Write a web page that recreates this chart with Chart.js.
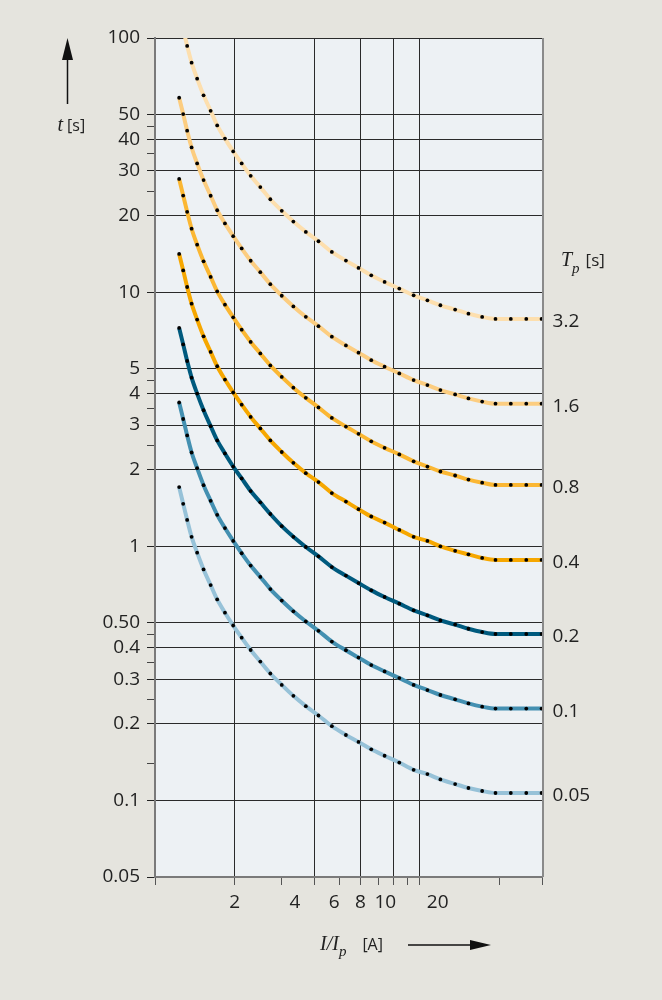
<!DOCTYPE html>
<html>
<head>
<meta charset="utf-8">
<script src="https://cdn.jsdelivr.net/npm/chart.js@4"></script>
<style>
  html, body { margin: 0; padding: 0; background: #e5e4de; }
  #wrap { width: 662px; height: 1000px; }
</style>
</head>
<body>
<div id="wrap"><canvas id="curveChart" width="662" height="1000"></canvas></div>
<script>
// I/Ip positions of the dots (shared by every curve)
const multiples = [1.234, 1.278, 1.323, 1.375, 1.443, 1.526, 1.623, 1.718, 1.838, 1.975,
    2.126, 2.299, 2.500, 2.728, 3.013, 3.333, 3.715, 4.147, 4.659, 5.265,
    5.875, 6.564, 7.372, 8.379, 9.491, 10.70, 11.98, 13.62, 15.29, 17.23,
    19.35, 22.11, 25.29, 28.89];

// tripping time t [s] for each time multiplier Tp
const tp32 = [null, 108.2, 93.1, 80.0, 69.2, 59.5, 51.7, 45.3, 40.2, 35.8,
    32.1, 28.7, 25.9, 23.2, 20.9, 18.95, 17.26, 15.86, 14.40, 13.31,
    12.46, 11.65, 10.97, 10.33, 9.72, 9.29, 8.88, 8.54, 8.23, 7.99,
    7.85, 7.85, 7.85, 7.85];
const tp16 = [58.2, 50.2, 43.2, 37.1, 32.1, 27.6, 23.95, 21.0, 18.64, 16.61,
    14.86, 13.29, 11.99, 10.75, 9.68, 8.79, 8.00, 7.35, 6.68, 6.17,
    5.78, 5.40, 5.09, 4.79, 4.51, 4.31, 4.12, 3.96, 3.82, 3.71,
    3.64, 3.64, 3.64, 3.64];
const tp08 = [27.9, 24.0, 20.7, 17.77, 15.38, 13.22, 11.48, 10.07, 8.93, 7.96,
    7.12, 6.37, 5.74, 5.15, 4.64, 4.21, 3.84, 3.52, 3.20, 2.96,
    2.77, 2.59, 2.44, 2.30, 2.16, 2.06, 1.97, 1.90, 1.83, 1.78,
    1.744, 1.744, 1.744, 1.744];
const tp04 = [14.14, 12.18, 10.48, 9.01, 7.80, 6.70, 5.82, 5.11, 4.53, 4.03,
    3.61, 3.23, 2.91, 2.61, 2.35, 2.13, 1.94, 1.79, 1.62, 1.50,
    1.40, 1.31, 1.24, 1.16, 1.09, 1.05, 1.00, 0.96, 0.93, 0.90,
    0.884, 0.884, 0.884, 0.884];
const tp02 = [7.23, 6.23, 5.36, 4.61, 3.99, 3.43, 2.97, 2.61, 2.32, 2.06,
    1.85, 1.65, 1.49, 1.34, 1.20, 1.09, 0.994, 0.913, 0.829, 0.767,
    0.717, 0.671, 0.632, 0.595, 0.560, 0.535, 0.511, 0.492, 0.474, 0.460,
    0.452, 0.452, 0.452, 0.452];
const tp01 = [3.68, 3.17, 2.73, 2.34, 2.03, 1.74, 1.51, 1.33, 1.18, 1.05,
    0.939, 0.840, 0.758, 0.679, 0.612, 0.555, 0.506, 0.465, 0.422, 0.390,
    0.365, 0.341, 0.322, 0.303, 0.285, 0.272, 0.260, 0.250, 0.241, 0.234,
    0.230, 0.230, 0.230, 0.230];
const tp005 = [1.71, 1.47, 1.27, 1.09, 0.944, 0.811, 0.704, 0.618, 0.548, 0.488,
    0.437, 0.391, 0.352, 0.316, 0.285, 0.258, 0.235, 0.216, 0.196, 0.181,
    0.170, 0.159, 0.150, 0.141, 0.132, 0.127, 0.121, 0.116, 0.112, 0.109,
    0.107, 0.107, 0.107, 0.107];

const curveLabels = ['3.2', '1.6', '0.8', '0.4', '0.2', '0.1', '0.05'];
const curveValues = [tp32, tp16, tp08, tp04, tp02, tp01, tp005];
const curveColors = ['#fddfae', '#fccd80', '#fbb733', '#f6a700', '#005a7e', '#4490b1', '#97c2d8'];

// axis ticks
const yTicks = [0.05, 0.1, 0.14, 0.2, 0.25, 0.3, 0.35, 0.4, 0.45, 0.5, 1, 2, 2.5, 3, 3.5, 4, 4.5, 5,
    10, 20, 25, 30, 35, 40, 45, 50, 100];
const yLabels = { 0.05: '0.05', 0.1: '0.1', 0.2: '0.2', 0.3: '0.3', 0.4: '0.4', 0.5: '0.50', 1: '1',
    2: '2', 3: '3', 4: '4', 5: '5', 10: '10', 20: '20', 30: '30', 40: '40', 50: '50', 100: '100' };
const xTicks = [1, 2, 3, 4, 5, 6, 7, 8, 9, 10, 20, 29];
const xGrid = [2, 4, 6, 8, 10];
const xLabels = ['2', '4', '6', '8', '10', '20'];
const xLabelAt = [2, 3.38, 4.75, 5.97, 7.42, 11.7];

const plotBg = '#edf1f4';
const pageBg = '#e5e4de';
const lineDark = '#2a2a2a';

function drawRuns(ctx, runs, x, y) {
    // draw text pieces one after another
    runs.forEach(r => {
        ctx.font = r.font;
        ctx.fillText(r.text, x + (r.dx || 0), y + (r.dy || 0));
        x += ctx.measureText(r.text).width + (r.dx || 0) + (r.gap || 0);
    });
}

const decorate = {
    id: 'decorate',
    beforeDraw(chart) {
        const { ctx, chartArea: a } = chart;
        ctx.save();
        ctx.fillStyle = pageBg;
        ctx.fillRect(0, 0, chart.width, chart.height);
        ctx.fillStyle = plotBg;
        ctx.fillRect(a.left, a.top, a.right - a.left, a.bottom - a.top);
        ctx.restore();
    },
    afterDatasetsDraw(chart) {
        const { ctx, chartArea: a } = chart;
        ctx.save();
        // right border of the plot
        ctx.strokeStyle = '#8a8a8a';
        ctx.lineWidth = 2;
        ctx.beginPath();
        ctx.moveTo(a.right + 1, a.top);
        ctx.lineTo(a.right + 1, a.bottom);
        ctx.stroke();

        // Tp labels at the end of each curve
        ctx.fillStyle = '#222';
        ctx.textBaseline = 'middle';
        ctx.textAlign = 'left';
        ctx.font = '19px "Open Sans"';
        chart.data.datasets.forEach((ds, i) => {
            const meta = chart.getDatasetMeta(i);
            const last = meta.data[meta.data.length - 1];
            ctx.fillText(curveLabels[i], last.x + 11, last.y + 3);
        });

        ctx.textBaseline = 'alphabetic';
        // Tp [s] heading
        drawRuns(ctx, [
            { text: 'T', font: 'italic 20px "Liberation Serif"' },
            { text: 'p', font: 'italic 15px "Liberation Serif"', dy: 7, gap: 6 },
            { text: '[s]', font: '17px "Open Sans"' }
        ], a.right + 19, 266);

        // y axis title with arrow
        const ax = a.left - 87.5;
        ctx.strokeStyle = '#111';
        ctx.fillStyle = '#111';
        ctx.lineWidth = 1.5;
        ctx.beginPath();
        ctx.moveTo(ax, a.top + 20);
        ctx.lineTo(ax, a.top + 66);
        ctx.stroke();
        ctx.beginPath();
        ctx.moveTo(ax, a.top);
        ctx.lineTo(ax - 5.5, a.top + 22);
        ctx.lineTo(ax + 5.5, a.top + 22);
        ctx.closePath();
        ctx.fill();
        ctx.fillStyle = '#222';
        drawRuns(ctx, [
            { text: 't', font: 'italic 20px "Liberation Serif"', gap: 4 },
            { text: '[s]', font: '16px "Open Sans"' }
        ], ax - 10, a.top + 93);

        // x axis title with arrow
        const ty = a.bottom + 73;
        drawRuns(ctx, [
            { text: 'I/I', font: 'italic 20px "Liberation Serif"' },
            { text: 'p', font: 'italic 15px "Liberation Serif"', dy: 6, gap: 16 },
            { text: '[A]', font: '16px "Open Sans"' }
        ], 320, ty);
        ctx.strokeStyle = '#111';
        ctx.lineWidth = 1.5;
        ctx.beginPath();
        ctx.moveTo(408, ty - 5);
        ctx.lineTo(475, ty - 5);
        ctx.stroke();
        ctx.fillStyle = '#111';
        ctx.beginPath();
        ctx.moveTo(491, ty - 5);
        ctx.lineTo(470, ty - 10);
        ctx.lineTo(470, ty);
        ctx.closePath();
        ctx.fill();
        ctx.restore();
    }
};

function initializeChart() {
    const ctx = document.getElementById('curveChart').getContext('2d');
    const datasets = curveValues.map((vals, i) => ({
        label: 'Tp ' + curveLabels[i],
        data: multiples.map((m, j) => ({ x: m, y: vals[j] })),
        borderColor: curveColors[i],
        borderWidth: 4,
        cubicInterpolationMode: 'monotone',
        pointRadius: 1.9,
        pointBorderWidth: 0,
        pointBackgroundColor: '#000',
        clip: { left: 4, top: 0, right: 4, bottom: 0 }
    }));

    new Chart(ctx, {
        type: 'line',
        data: { datasets: datasets },
        plugins: [decorate],
        options: {
            responsive: false,
            animation: false,
            layout: { padding: { left: 0, right: 120, top: 38, bottom: 83 } },
            plugins: {
                legend: { display: false },
                tooltip: { enabled: false }
            },
            scales: {
                x: {
                    type: 'logarithmic',
                    position: 'bottom',
                    min: 1,
                    max: 29,
                    afterBuildTicks: axis => { axis.ticks = xTicks.map(v => ({ value: v })); },
                    afterFit: axis => { axis.height = 10; },
                    ticks: { display: false },
                    grid: {
                        color: c => (c.tick && xGrid.includes(c.tick.value)) ? lineDark : 'rgba(0,0,0,0)',
                        tickColor: '#555',
                        tickLength: 8,
                        lineWidth: 1
                    },
                    border: { display: true, color: '#7a7a7a', width: 2 }
                },
                xl: {
                    type: 'logarithmic',
                    position: 'bottom',
                    min: 1,
                    max: 29,
                    afterBuildTicks: axis => { axis.ticks = xLabelAt.map(v => ({ value: v })); },
                    afterFit: axis => { axis.height = 30; },
                    ticks: {
                        autoSkip: false,
                        maxRotation: 0,
                        padding: 4,
                        color: '#222',
                        font: { family: 'Open Sans', size: 19 },
                        callback: (v, i) => xLabels[i]
                    },
                    grid: { display: false, drawTicks: false },
                    border: { display: false }
                },
                y: {
                    type: 'logarithmic',
                    min: 0.05,
                    max: 100,
                    afterBuildTicks: axis => { axis.ticks = yTicks.map(v => ({ value: v })); },
                    afterFit: axis => { axis.width = 155; },
                    ticks: {
                        autoSkip: false,
                        padding: 7,
                        color: '#222',
                        font: { family: 'Open Sans', size: 19 },
                        callback: v => yLabels[v] || ''
                    },
                    grid: {
                        color: c => (c.tick && yLabels[c.tick.value]) ? lineDark : 'rgba(0,0,0,0)',
                        tickColor: c => (c.tick && yLabels[c.tick.value]) ? '#222' : '#444',
                        tickLength: 8,
                        lineWidth: 1
                    },
                    border: { display: true, color: '#7a7a7a', width: 2 }
                }
            }
        }
    });
}

initializeChart();
</script>
</body>
</html>
